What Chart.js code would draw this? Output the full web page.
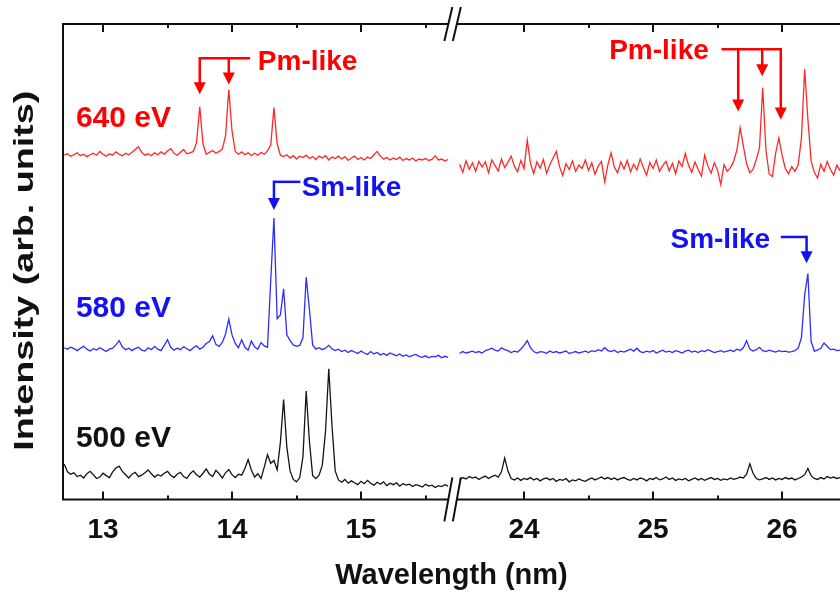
<!DOCTYPE html>
<html>
<head>
<meta charset="utf-8">
<script src="https://cdn.jsdelivr.net/npm/chart.js@4.4.1/dist/chart.umd.min.js"></script>
<style>
  html, body { margin: 0; padding: 0; background: #fff; }
  #wrap { width: 840px; height: 592px; position: relative; }
</style>
</head>
<body>
<div id="wrap"><canvas id="spectra"></canvas></div>
<script>
// wavelength sampling of the two windows (nm)
const leftStart = 12.70, rightStart = 23.50, stepNm = 0.025;
// visible range of each window
const leftMin = 12.69, leftMax = 15.69, rightMin = 23.47, rightMax = 26.449;
// axis ticks
const tickNm = [13, 14, 15, 24, 25, 26];
const tickLabels = ["13", "14", "15", "24", "25", "26"];
const minorNm = [13.5, 14.5, 15.5, 24.5, 25.5];
// stacked spectra: labels and vertical offsets (arb. units)
const energies = ["640 eV", "580 eV", "500 eV"];
const offsets = [72, 31, 5];

// 640 eV
const red640Left = [0.4,0.7,0.2,0.5,0.9,0.3,0.6,0.1,0.5,0.8,0.4,1.2,0.6,0.2,0.7,0.4,1.1,0.6,0.3,0.8,
  0.5,1.0,1.6,2.2,1.0,0.4,0.7,0.3,0.9,0.5,1.1,0.6,1.3,1.8,0.8,0.4,1.0,1.6,0.7,0.9,
  1.2,3.0,10.6,2.8,0.6,1.0,1.4,0.8,1.2,1.7,4.5,14.2,5.5,1.2,0.6,1.1,0.5,0.9,0.3,0.8,
  0.4,1.0,0.6,1.3,2.5,10.4,2.8,0.4,0.1,0.5,-0.2,0.3,-0.4,0.2,-0.1,0.4,-0.3,0.1,-0.5,0.2,
  -0.2,0.3,-0.6,0.0,-0.3,0.2,-0.4,0.1,-0.7,-0.2,0.2,-0.5,-0.1,-0.6,0.0,-0.3,0.5,1.2,0.2,-0.4,
  -0.1,-0.6,-0.2,-0.5,0.0,-0.7,-0.3,-0.6,-0.2,-0.8,-0.4,-0.6,-0.3,-0.7,-0.5,0.3,-0.6,-0.4,-0.8,-0.5];
const red640Right = [-1.5,-3.2,-0.8,-2.6,-1.2,-3.0,-0.9,-2.1,-1.0,-3.3,-0.6,-1.8,-2.9,-0.4,-2.2,-1.1,0.2,-1.9,-3.1,-0.7,
  -2.4,3.6,-1.3,-3.5,-1.0,-2.3,-0.5,-3.4,-1.6,-0.2,1.2,-2.0,-3.9,-1.4,-2.6,-0.8,-3.0,-1.7,-2.4,-0.6,
  -2.8,-1.2,-3.6,-1.9,-0.9,-5.2,-1.6,0.9,-2.1,-3.3,-1.0,-2.5,-0.7,-3.1,-1.5,-2.7,-0.4,-2.2,-3.8,-1.1,
  -2.4,-0.6,-3.0,-1.8,-0.9,-2.9,-1.3,-3.5,-0.8,-2.0,0.8,-1.7,-3.2,-1.0,-2.6,-4.0,0.4,-1.9,-3.4,-1.2,
  -2.8,-5.8,-1.6,-3.0,-2.2,-0.9,1.5,6.2,2.3,-1.4,-3.3,-2.6,-0.5,2.0,14.6,1.5,-3.6,-4.1,0.8,4.0,
  0.4,-2.4,-3.5,-2.0,-3.0,-1.6,4.0,18.5,8.0,-0.8,-3.2,-4.4,-1.5,-3.0,-0.9,-2.6,-3.8,-1.7,-2.9];
// 580 eV
const blue580Left = [0.9,0.6,1.0,0.7,0.3,0.8,1.2,0.6,0.2,0.7,0.4,0.9,0.5,0.1,0.6,0.8,1.5,2.4,1.1,0.5,
  0.8,0.3,0.7,1.0,0.4,0.2,0.9,0.5,1.2,0.6,0.3,1.4,2.6,1.0,0.4,0.8,0.5,1.1,0.7,0.3,
  0.9,1.3,0.6,1.0,1.8,2.2,3.4,1.6,1.2,2.0,3.8,6.9,3.6,1.8,0.9,2.6,1.0,0.4,2.3,1.1,
  0.6,2.0,1.3,1.0,15.0,28.2,7.0,7.8,13.3,3.6,2.4,1.5,1.2,1.4,3.0,15.7,9.0,1.5,0.6,0.9,
  0.5,0.8,1.4,0.7,0.3,0.6,0.1,0.4,-0.1,0.3,0.0,-0.3,0.2,-0.2,-0.5,0.1,-0.4,-0.1,-0.6,-0.3,
  -0.7,-0.2,-0.5,-0.8,-0.4,-0.9,-0.6,-1.0,-0.7,-0.5,-0.9,-1.1,-0.8,-1.2,-0.9,-1.0,-0.7,-1.2,-0.9,-1.1];
const blue580Right = [-0.3,0.1,-0.2,0.0,0.2,-0.1,0.1,-0.2,0.3,0.5,0.8,0.4,0.2,0.9,0.5,0.3,-0.1,0.2,0.0,0.6,
  1.4,2.4,0.9,0.1,-0.2,0.1,0.0,-0.3,0.2,-0.1,0.1,-0.2,0.0,0.2,-0.3,-0.1,0.1,-0.2,0.0,0.2,
  -0.1,0.3,0.1,0.5,0.2,0.9,0.3,0.1,0.4,-0.1,0.2,0.0,0.3,0.6,0.2,0.8,0.1,-0.1,0.2,0.0,
  0.3,-0.2,0.1,0.4,0.0,0.2,-0.1,0.3,0.1,-0.2,0.2,0.4,0.0,0.2,-0.1,0.3,0.1,0.5,0.2,-0.1,
  0.1,0.3,0.0,0.2,0.4,0.1,0.6,0.3,0.9,2.4,0.6,0.2,0.5,1.0,0.3,0.1,0.4,0.2,0.0,0.3,
  0.1,0.2,0.0,0.1,0.3,0.8,3.0,12.0,16.5,2.2,0.2,0.4,0.8,1.9,1.2,0.5,0.6,0.3,0.4];
// 500 eV
const black500Left = [2.4,0.8,0.3,0.6,-0.2,0.1,-0.5,0.4,0.9,0.2,-0.6,-0.3,0.5,0.0,-0.4,0.8,1.6,2.0,0.9,0.2,
  -0.5,0.3,0.7,-0.2,0.1,0.6,1.2,0.4,-0.3,0.2,-0.1,0.5,0.9,0.1,-0.4,0.3,0.7,-0.2,-0.6,0.4,
  1.0,0.2,-0.3,0.5,1.4,0.3,-0.2,1.1,0.4,-0.5,0.6,1.3,0.2,-0.4,0.3,0.1,1.5,3.4,1.2,-0.3,
  0.4,-0.6,1.8,4.4,2.6,3.2,1.2,7.0,16.0,6.0,1.0,-0.8,-1.3,-0.4,4.0,17.8,7.2,0.0,-0.6,0.1,
  2.2,9.4,22.5,10.5,1.0,-0.9,-1.4,-0.8,-1.6,-1.1,-1.5,-1.9,-1.2,-1.7,-1.0,-1.6,-2.0,-1.4,-1.8,-1.3,
  -2.1,-1.6,-1.9,-1.5,-2.2,-1.7,-2.0,-1.8,-2.3,-1.9,-2.1,-2.4,-1.8,-2.2,-2.0,-2.5,-2.1,-2.3,-1.9,-2.2];
const black500Right = [-0.9,-0.4,-0.7,-0.2,-0.5,-0.3,-0.8,-0.4,-0.1,-0.6,-0.2,0.1,-0.3,0.8,3.7,1.0,-0.6,-0.9,-0.5,-1.0,
  -0.6,-0.8,-0.4,-0.9,-0.6,-1.1,-0.7,-0.5,-0.9,-0.6,-1.2,-0.8,-1.0,-0.6,-1.3,-0.9,-1.1,-0.7,-1.0,-1.2,
  -0.8,-0.5,-0.9,-0.6,-0.3,-0.7,-0.4,-0.8,-0.5,-0.9,-0.6,-0.4,-0.8,-1.0,-0.6,-0.9,-0.5,-0.7,-1.1,-0.6,
  -0.8,-0.4,-0.9,-0.7,-0.3,-0.8,-0.5,-1.0,-0.7,-0.9,-0.6,-1.1,-0.8,-0.5,-0.9,-0.6,-1.0,-0.7,-0.4,-0.8,
  -0.6,-1.0,-0.7,-0.9,-0.5,-0.8,-0.6,-0.3,-0.5,0.3,2.5,0.5,-0.6,-0.9,-0.7,-0.4,-0.8,-0.5,-0.9,-0.6,
  -0.8,-0.4,-0.7,-0.5,-0.9,-0.6,-0.3,0.2,1.5,0.0,-0.6,-0.8,-0.4,-0.7,-0.2,-0.5,-0.3,-0.6,-0.4];

const RED = "rgb(255,0,0)", BLUE = "rgb(18,18,245)", INK = "#111";
const traceColors = ["rgb(255,40,40)", "rgb(45,45,255)", "rgb(20,20,20)"];
const FONT = '"Liberation Sans", Arial, sans-serif';

// broken axis: the right window is slid left so both share one linear scale
const shift = 7.7364;
function toAxis(nm) { return nm > 20 ? nm - shift : nm; }

function buildSeries(leftVals, rightVals, offset) {
  const pts = leftVals.map((v, k) => ({ x: toAxis(leftStart + stepNm * k), y: offset + v }));
  pts.push({ x: (toAxis(leftMax) + toAxis(rightMin)) / 2, y: null });
  rightVals.forEach((v, k) => pts.push({ x: toAxis(rightStart + stepNm * k), y: offset + v }));
  return pts;
}

// labels and bracket arrows, placed in data units (nm, arb. units)
const labels = [
  { text: "640 eV", nm: 12.79, y: 80.1, color: RED, size: 30 },
  { text: "580 eV", nm: 12.79, y: 40.2, color: BLUE, size: 30 },
  { text: "500 eV", nm: 12.79, y: 12.7, color: INK, size: 30 },
  { text: "Pm-like", nm: 14.20, y: 92.0, color: RED, size: 28 },
  { text: "Pm-like", nm: 24.66, y: 94.3, color: RED, size: 28 },
  { text: "Sm-like", nm: 14.54, y: 65.5, color: BLUE, size: 28 },
  { text: "Sm-like", nm: 25.135, y: 54.5, color: BLUE, size: 28 }
];
const brackets = [
  { color: RED, y: 92.8, from: 13.75, to: 14.14, arrows: [[13.75, 85.2], [13.975, 87.3]] },
  { color: RED, y: 94.7, from: 25.53, to: 25.99, arrows: [[25.66, 81.6], [25.846, 89.0], [25.99, 79.9]] },
  { color: BLUE, y: 66.8, from: 14.325, to: 14.53, arrows: [[14.325, 60.9]] },
  { color: BLUE, y: 55.2, from: 25.99, to: 26.19, arrows: [[26.19, 49.7]] }
];

const framePlugin = {
  id: "frame",
  afterDatasetsDraw(chart) {
    const { ctx, chartArea: a, scales: { x, y } } = chart;
    ctx.save();
    // frame
    ctx.strokeStyle = INK;
    ctx.lineWidth = 2;
    ctx.beginPath();
    ctx.moveTo(a.right + 2, a.top); ctx.lineTo(a.left, a.top); ctx.lineTo(a.left, a.bottom); ctx.lineTo(a.right + 2, a.bottom);
    ctx.stroke();
    // inward ticks on top and bottom
    ctx.lineWidth = 2;
    ctx.beginPath();
    tickNm.forEach(v => {
      const px = Math.round(x.getPixelForValue(toAxis(v)));
      ctx.moveTo(px, a.bottom); ctx.lineTo(px, a.bottom - 8);
      ctx.moveTo(px, a.top); ctx.lineTo(px, a.top + 8);
    });
    minorNm.forEach(v => {
      const px = Math.round(x.getPixelForValue(toAxis(v)));
      ctx.moveTo(px, a.bottom); ctx.lineTo(px, a.bottom - 4);
      ctx.moveTo(px, a.top); ctx.lineTo(px, a.top + 4);
    });
    ctx.stroke();
    // axis break marks
    const bx = (x.getPixelForValue(toAxis(leftMax)) + x.getPixelForValue(toAxis(rightMin))) / 2;
    [[a.top, 17], [a.bottom, 22]].forEach(([yy, h]) => {
      ctx.fillStyle = "#fff";
      ctx.fillRect(bx - 4, yy - 3, 8, 6);
      ctx.beginPath();
      [-4.5, 4].forEach(d => {
        ctx.moveTo(bx + d - 4, yy + h);
        ctx.lineTo(bx + d + 4, yy - h);
      });
      ctx.stroke();
    });

    // brackets with arrows
    brackets.forEach(b => {
      ctx.strokeStyle = b.color;
      ctx.fillStyle = b.color;
      ctx.lineWidth = 2.5;
      const by = y.getPixelForValue(b.y);
      ctx.beginPath();
      ctx.moveTo(x.getPixelForValue(toAxis(b.from)), by);
      ctx.lineTo(x.getPixelForValue(toAxis(b.to)), by);
      ctx.stroke();
      b.arrows.forEach(([nm, tip]) => {
        const ax = x.getPixelForValue(toAxis(nm));
        const ty = y.getPixelForValue(tip);
        ctx.beginPath();
        ctx.moveTo(ax, by - 1.2);
        ctx.lineTo(ax, ty - 10);
        ctx.stroke();
        ctx.beginPath();
        ctx.moveTo(ax - 6, ty - 12);
        ctx.lineTo(ax + 6, ty - 12);
        ctx.lineTo(ax, ty);
        ctx.closePath();
        ctx.fill();
      });
    });

    // text labels
    ctx.textAlign = "left";
    ctx.textBaseline = "middle";
    labels.forEach(l => {
      ctx.fillStyle = l.color;
      ctx.font = "bold " + l.size + "px " + FONT;
      ctx.fillText(l.text, x.getPixelForValue(toAxis(l.nm)), y.getPixelForValue(l.y));
    });

    // y axis title (set wide, like the original)
    const yTitle = "Intensity (arb. units)";
    ctx.fillStyle = INK;
    ctx.font = "bold 28px " + FONT;
    const w = ctx.measureText(yTitle).width;
    ctx.translate(33, (a.top + a.bottom) / 2 + 9);
    ctx.rotate(-Math.PI / 2);
    ctx.scale(360 / w, 1);
    ctx.textAlign = "center";
    ctx.textBaseline = "alphabetic";
    ctx.fillText(yTitle, 0, 0);
    ctx.restore();
  }
};

const datasets = [
  buildSeries(red640Left, red640Right, offsets[0]),
  buildSeries(blue580Left, blue580Right, offsets[1]),
  buildSeries(black500Left, black500Right, offsets[2])
].map((data, i) => ({
  label: energies[i],
  data: data,
  borderColor: traceColors[i],
  borderWidth: 1.3,
  pointRadius: 0,
  tension: 0,
  spanGaps: false
}));

new Chart(document.getElementById("spectra"), {
  type: "line",
  data: { datasets: datasets },
  options: {
    responsive: true,
    maintainAspectRatio: false,
    animation: false,
    layout: { padding: { left: 63, top: 24, right: 0, bottom: 0 } },
    plugins: { legend: { display: false }, tooltip: { enabled: false } },
    scales: {
      x: {
        type: "linear",
        min: toAxis(leftMin),
        max: toAxis(rightMax),
        grid: { display: false, drawTicks: false },
        border: { display: false },
        afterBuildTicks: scale => { scale.ticks = tickNm.map(v => ({ value: toAxis(v) })); },
        ticks: {
          autoSkip: false,
          maxRotation: 0,
          padding: 14,
          color: INK,
          font: { family: FONT, size: 28, weight: "bold" },
          callback: (val, i) => tickLabels[i]
        },
        title: {
          display: true,
          text: "Wavelength (nm)",
          color: INK,
          padding: { top: 0, bottom: 2 },
          font: { family: FONT, size: 29, weight: "bold", lineHeight: 1.0 }
        }
      },
      y: { display: false, min: 0, max: 100 }
    }
  },
  plugins: [framePlugin]
});
</script>
</body>
</html>
